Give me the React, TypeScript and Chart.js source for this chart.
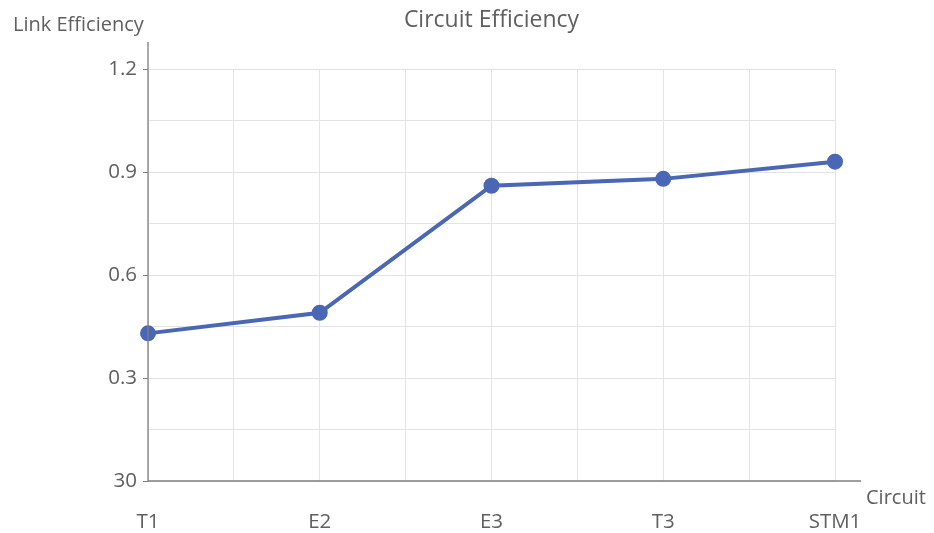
import React, { useEffect, useRef } from "react";
import { Chart, registerables } from "chart.js";

Chart.register(...registerables);

const categories = ["T1", "E2", "E3", "T3", "STM1"];
const efficiency = [0.43, 0.49, 0.86, 0.88, 0.93];
const yTickLabels: Record<string, string> = { "0": "30", "0.3": "0.3", "0.6": "0.6", "0.9": "0.9", "1.2": "1.2" };
const chartTitle = "Circuit Efficiency";
const yTitle = "Link Efficiency";
const xTitle = "Circuit";

const TEXT = "#5f5f5f";
const GRID = "#e3e3e3";
const AXIS = "#7f7f7f";
const LINE = "#4a67b5";
const FONT = "'Open Sans', Lato, sans-serif";

const isLabeled = (v: number) => Math.abs(v / 0.3 - Math.round(v / 0.3)) < 1e-6;

const decorPlugin = {
  id: "decor",
  afterDraw(chart: any) {
    const { ctx, chartArea } = chart;
    const { left, right, top, bottom } = chartArea;
    ctx.save();
    ctx.strokeStyle = AXIS;
    ctx.lineWidth = 1.3;
    ctx.beginPath();
    ctx.moveTo(left, top - 27);
    ctx.lineTo(left, bottom);
    ctx.lineTo(right + 26, bottom);
    ctx.stroke();
    ctx.fillStyle = TEXT;
    ctx.textBaseline = "middle";
    ctx.font = `23px ${FONT}`;
    ctx.textAlign = "center";
    ctx.fillText(chartTitle, (left + right) / 2, 20);
    ctx.font = `20px ${FONT}`;
    ctx.textAlign = "left";
    ctx.fillText(yTitle, 13, 25);
    ctx.fillText(xTitle, right + 31, bottom + 17);
    ctx.restore();
  },
};

export default function App() {
  const ref = useRef<HTMLCanvasElement>(null);
  useEffect(() => {
    document.body.style.margin = "0";
    const chart = new Chart(ref.current!, {
      type: "line",
      data: {
        datasets: [
          {
            data: categories.map((c, i) => ({ x: i, y: efficiency[i] })),
            borderColor: LINE,
            backgroundColor: LINE,
            borderWidth: 4,
            pointRadius: 6,
            pointBackgroundColor: LINE,
            pointBorderColor: LINE,
            tension: 0,
            clip: false,
          },
        ],
      },
      options: {
        animation: false,
        responsive: false,
        events: [],
        layout: { padding: { left: 0, top: 69, right: 99, bottom: 0 } },
        plugins: { legend: { display: false }, title: { display: false }, tooltip: { enabled: false } },
        scales: {
          x: {
            type: "linear",
            min: 0,
            max: categories.length - 1,
            afterFit: (s: any) => { s.height = 52; },
            border: { display: false },
            grid: { color: GRID, lineWidth: 1, drawTicks: false },
            ticks: {
              stepSize: 0.5,
              padding: 29,
              maxRotation: 0,
              autoSkip: false,
              color: TEXT,
              font: { family: FONT, size: 20.5 },
              callback: (v: any) => (Number.isInteger(v) ? categories[v] : ""),
            },
          },
          y: {
            min: 0,
            max: 1.2,
            afterFit: (s: any) => { s.width = 148; },
            border: { display: false },
            grid: {
              color: GRID,
              lineWidth: 1,
              drawTicks: true,
              tickLength: 5,
              tickColor: (c: any) => (isLabeled(c.tick.value) ? AXIS : "rgba(0,0,0,0)"),
            },
            ticks: {
              stepSize: 0.15,
              padding: 6,
              autoSkip: false,
              color: TEXT,
              font: { family: FONT, size: 20.5 },
              callback: (v: any) => {
                if (!isLabeled(v)) return "";
                const key = String(Math.round(v * 10) / 10);
                return yTickLabels[key] ?? "";
              },
            },
          },
        },
      },
      plugins: [decorPlugin],
    });
    return () => chart.destroy();
  }, []);
  return <canvas ref={ref} width={934} height={533} style={{ display: "block" }} />;
}
